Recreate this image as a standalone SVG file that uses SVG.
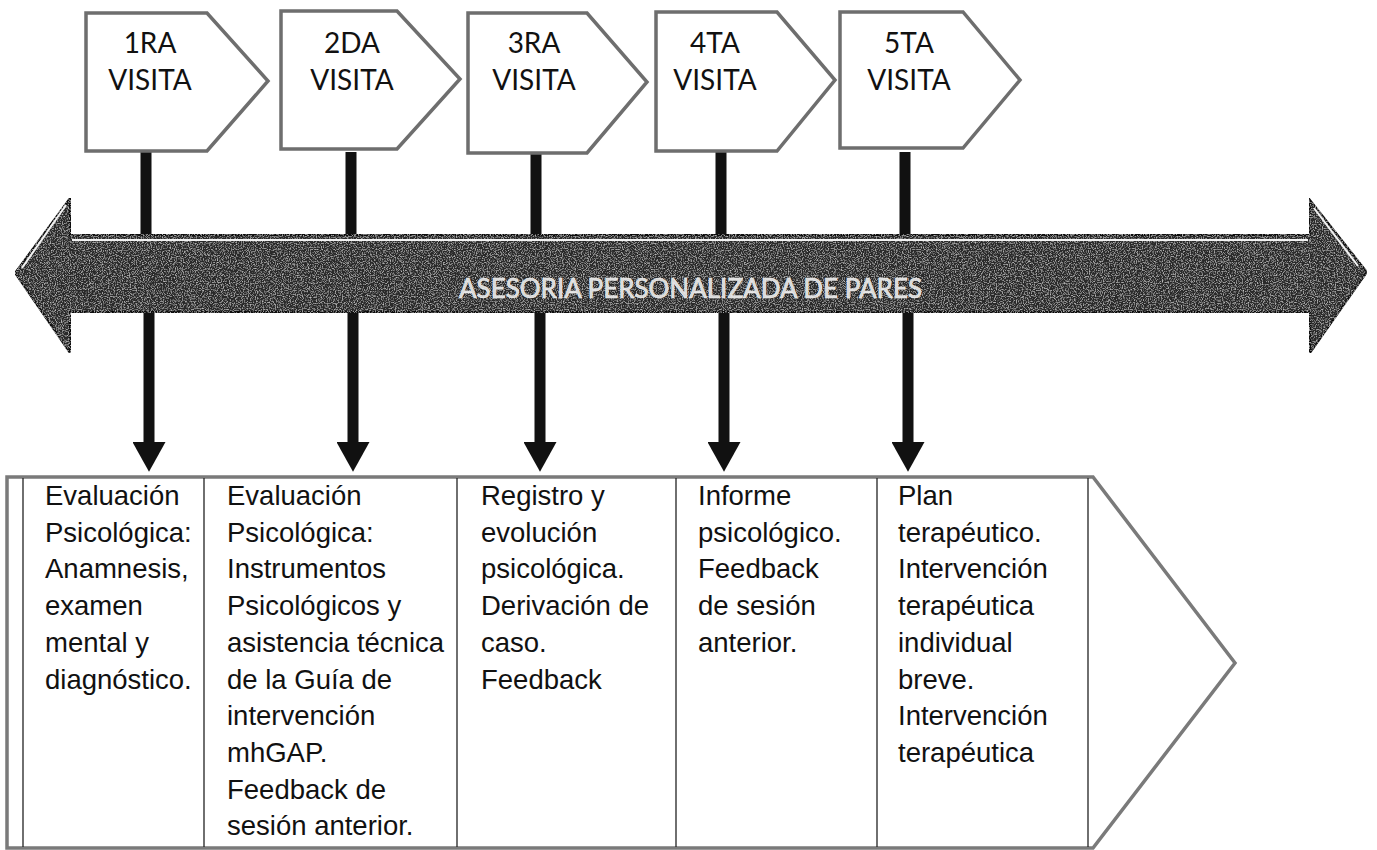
<svg xmlns="http://www.w3.org/2000/svg" width="1377" height="850" viewBox="0 0 1377 850">
  <style>
    .tag { fill: #ffffff; stroke: #6e6e6e; stroke-width: 3.5; stroke-linejoin: miter; }
    .tagtxt { font-family: Lato, "Open Sans", "Liberation Sans", sans-serif; font-size: 28px; fill: #111; text-anchor: middle; }
    .stem { stroke: #111; stroke-width: 11; }
    .band { fill: #2a2a2a; stroke: #111; stroke-width: 2; }
    .shine { stroke: #f2f2f2; stroke-width: 2; fill: none; }
    .bandtxt { font-family: Lato, "Open Sans", "Liberation Sans", sans-serif; font-size: 26px; fill: #d9d9d9; stroke: #f5f5f5; stroke-width: 0.6; }
    .frame { fill: #ffffff; stroke: #7a7a7a; stroke-width: 3.5; stroke-linejoin: miter; }
    .col { stroke: #222; stroke-width: 1.3; }
    .cell { font-family: "Liberation Sans", Arial, sans-serif; font-size: 27.5px; fill: #111; }
  </style>
  <defs>
    <marker id="head" viewBox="0 0 2.7 3" refX="0" refY="1.5" markerWidth="2.7" markerHeight="3" orient="auto" markerUnits="strokeWidth">
      <path d="M0,0 L2.7,1.5 L0,3 Z" fill="#111"/>
    </marker>
    <filter id="grain" x="0" y="0" width="100%" height="100%">
      <feTurbulence type="fractalNoise" baseFrequency="0.85" numOctaves="2" seed="7" result="noise"/>
      <feColorMatrix in="noise" type="matrix" values="0 0 0 0 0.6  0 0 0 0 0.6  0 0 0 0 0.6  0 0 0 2.2 -1.05" result="specks"/>
      <feComposite in="specks" in2="SourceGraphic" operator="in" result="inside"/>
      <feMerge><feMergeNode in="SourceGraphic"/><feMergeNode in="inside"/></feMerge>
    </filter>
  </defs>

  <!-- connectors: stems from each tag down to the band, and arrows from the band to the table -->
  <g id="connectors">
    <line class="stem" x1="146" y1="152" x2="146" y2="240"/>
    <line class="stem" x1="351" y1="152" x2="351" y2="240"/>
    <line class="stem" x1="536" y1="152" x2="536" y2="240"/>
    <line class="stem" x1="721" y1="152" x2="721" y2="240"/>
    <line class="stem" x1="905" y1="152" x2="905" y2="240"/>
    <line class="stem" x1="149" y1="305" x2="149" y2="442" marker-end="url(#head)"/>
    <line class="stem" x1="353" y1="305" x2="353" y2="442" marker-end="url(#head)"/>
    <line class="stem" x1="540" y1="305" x2="540" y2="442" marker-end="url(#head)"/>
    <line class="stem" x1="724" y1="305" x2="724" y2="442" marker-end="url(#head)"/>
    <line class="stem" x1="908" y1="305" x2="908" y2="442" marker-end="url(#head)"/>
  </g>

  <!-- double-headed band -->
  <g id="band">
    <path class="band" filter="url(#grain)" d="M15,273 L70,198 L70,235 L1310,235 L1310,200 L1367,272 L1310,353 L1310,312 L70,312 L70,353 Z"/>
    <path class="shine" d="M72,240 L1308,240 M66,205 L22,268 M1314,208 L1358,266"/>
    <text class="bandtxt" x="459" y="298" textLength="463" lengthAdjust="spacingAndGlyphs">ASESORIA PERSONALIZADA DE PARES</text>
  </g>

  <!-- visit tags -->
  <g id="visit1">
    <path class="tag" d="M86,13 L207,13 L268,81 L207,151 L86,151 Z"/>
    <text class="tagtxt" x="150" y="53">1RA</text>
    <text class="tagtxt" x="150" y="90">VISITA</text>
  </g>
  <g id="visit2">
    <path class="tag" d="M281,11 L397,11 L460,79 L397,149 L281,149 Z"/>
    <text class="tagtxt" x="352" y="53">2DA</text>
    <text class="tagtxt" x="352" y="90">VISITA</text>
  </g>
  <g id="visit3">
    <path class="tag" d="M468,13 L587,13 L647,82 L587,153 L468,153 Z"/>
    <text class="tagtxt" x="534" y="53">3RA</text>
    <text class="tagtxt" x="534" y="90">VISITA</text>
  </g>
  <g id="visit4">
    <path class="tag" d="M656,12 L777,12 L835,80 L777,151 L656,151 Z"/>
    <text class="tagtxt" x="715" y="53">4TA</text>
    <text class="tagtxt" x="715" y="90">VISITA</text>
  </g>
  <g id="visit5">
    <path class="tag" d="M840,12 L963,12 L1020,80 L963,148 L840,148 Z"/>
    <text class="tagtxt" x="909" y="53">5TA</text>
    <text class="tagtxt" x="909" y="90">VISITA</text>
  </g>

  <!-- activity table inside the chevron -->
  <g id="table">
    <path class="frame" d="M7,477 L1093,477 L1235,663 L1093,848 L7,848 Z"/>
    <line class="col" x1="23" y1="478" x2="23" y2="847"/>
    <line class="col" x1="204" y1="478" x2="204" y2="847"/>
    <line class="col" x1="457" y1="478" x2="457" y2="847"/>
    <line class="col" x1="676" y1="478" x2="676" y2="847"/>
    <line class="col" x1="877" y1="478" x2="877" y2="847"/>
    <line class="col" x1="1088" y1="478" x2="1088" y2="847"/>
  </g>

  <g id="cell1" class="cell">
    <text x="45" y="505">Evaluación</text>
    <text x="45" y="541.7">Psicológica:</text>
    <text x="45" y="578.4">Anamnesis,</text>
    <text x="45" y="615.1">examen</text>
    <text x="45" y="651.8">mental y</text>
    <text x="45" y="688.5">diagnóstico.</text>
  </g>
  <g id="cell2" class="cell">
    <text x="227" y="505">Evaluación</text>
    <text x="227" y="541.7">Psicológica:</text>
    <text x="227" y="578.4">Instrumentos</text>
    <text x="227" y="615.1">Psicológicos y</text>
    <text x="227" y="651.8">asistencia técnica</text>
    <text x="227" y="688.5">de la Guía de</text>
    <text x="227" y="725.2">intervención</text>
    <text x="227" y="761.9">mhGAP.</text>
    <text x="227" y="798.6">Feedback de</text>
    <text x="227" y="835.3">sesión anterior.</text>
  </g>
  <g id="cell3" class="cell">
    <text x="481" y="505">Registro y</text>
    <text x="481" y="541.7">evolución</text>
    <text x="481" y="578.4">psicológica.</text>
    <text x="481" y="615.1">Derivación de</text>
    <text x="481" y="651.8">caso.</text>
    <text x="481" y="688.5">Feedback</text>
  </g>
  <g id="cell4" class="cell">
    <text x="698" y="505">Informe</text>
    <text x="698" y="541.7">psicológico.</text>
    <text x="698" y="578.4">Feedback</text>
    <text x="698" y="615.1">de sesión</text>
    <text x="698" y="651.8">anterior.</text>
  </g>
  <g id="cell5" class="cell">
    <text x="898" y="505">Plan</text>
    <text x="898" y="541.7">terapéutico.</text>
    <text x="898" y="578.4">Intervención</text>
    <text x="898" y="615.1">terapéutica</text>
    <text x="898" y="651.8">individual</text>
    <text x="898" y="688.5">breve.</text>
    <text x="898" y="725.2">Intervención</text>
    <text x="898" y="761.9">terapéutica</text>
  </g>
</svg>
